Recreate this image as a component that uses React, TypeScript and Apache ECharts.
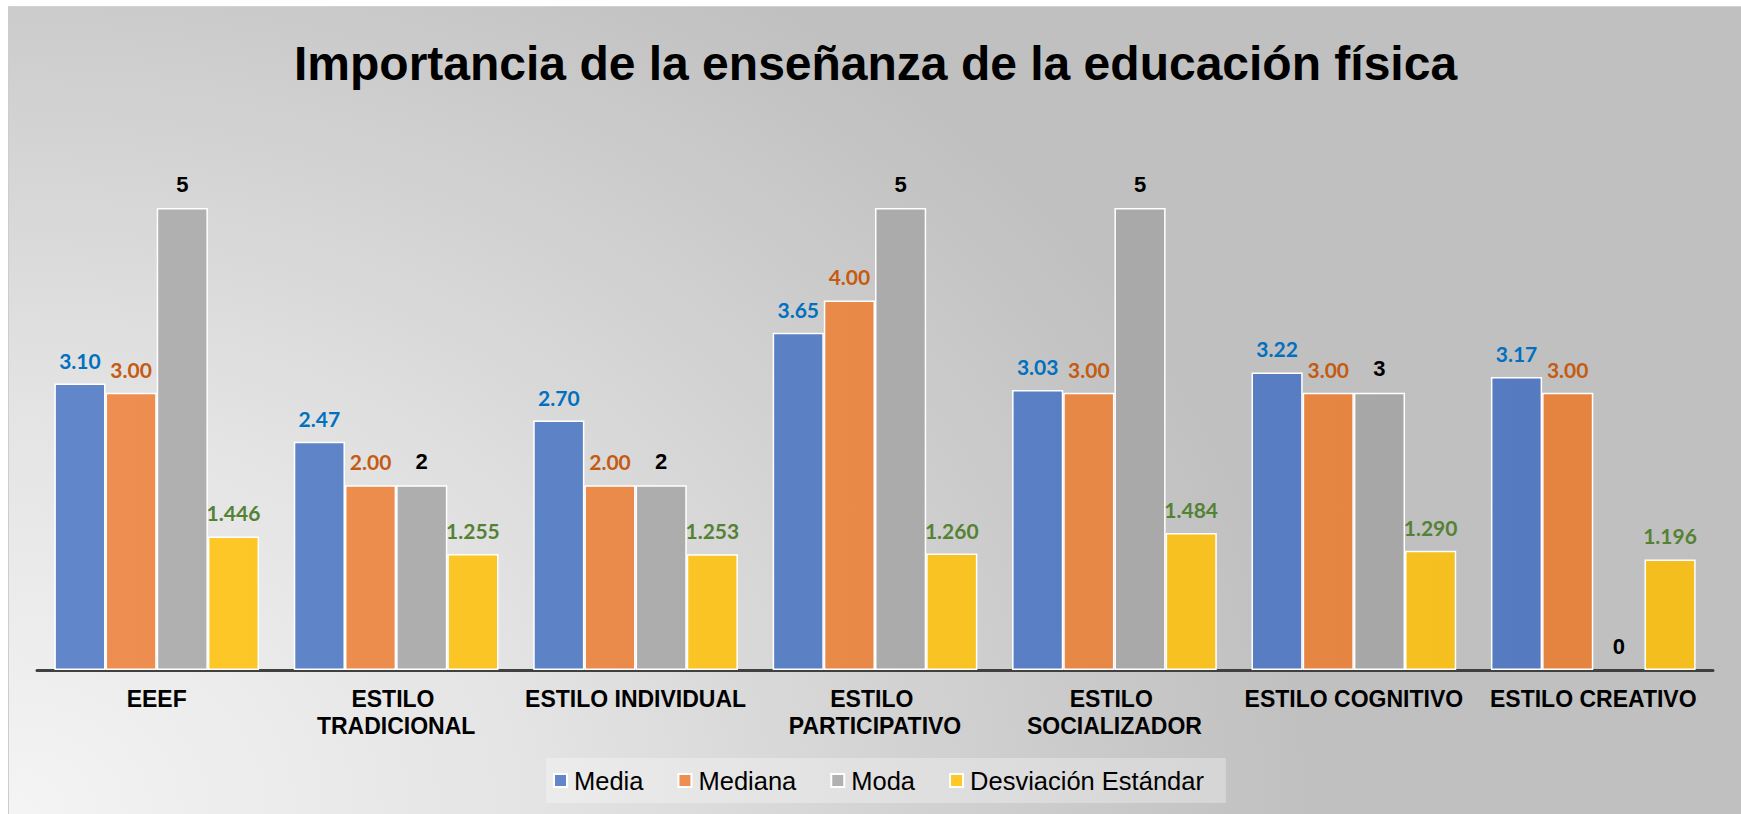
import React, { useEffect, useRef } from "react";
import * as echarts from "echarts";

const titleText = "Importancia de la enseñanza de la educación física";
const categories = [
  "EEEF",
  "ESTILO TRADICIONAL",
  "ESTILO INDIVIDUAL",
  "ESTILO PARTICIPATIVO",
  "ESTILO SOCIALIZADOR",
  "ESTILO COGNITIVO",
  "ESTILO CREATIVO",
];
const seriesNames = ["Media", "Mediana", "Moda", "Desviación Estándar"];
const media = [3.1, 2.47, 2.7, 3.65, 3.03, 3.22, 3.17];
const mediana = [3, 2, 2, 4, 3, 3, 3];
const moda = [5, 2, 2, 5, 5, 3, 0];
const desviacion = [1.446, 1.255, 1.253, 1.26, 1.484, 1.29, 1.196];

const grad = (a: string, b: string) => ({
  type: "linear",
  x: 37,
  y: 0,
  x2: 1713,
  y2: 0,
  global: true,
  colorStops: [
    { offset: 0, color: a },
    { offset: 1, color: b },
  ],
});

export default function App() {
  const ref = useRef<HTMLDivElement>(null);
  useEffect(() => {
    const chart = echarts.init(ref.current!, null, { renderer: "svg" });
    const labelBase = {
      show: true,
      position: "top",
      distance: 13,
      fontSize: 21,
      fontWeight: "bold",
      fontFamily: "Lato, 'Noto Sans', sans-serif",
    };
    const mk = (name: string, data: number[], color: any, label: any) => ({
      name,
      type: "bar",
      data: data.map((v) =>
        v === 0 ? { value: v, itemStyle: { borderWidth: 0 } } : v
      ),
      barGap: "0%",
      barCategoryGap: "14.5%",
      itemStyle: { color, borderColor: "#ffffff", borderWidth: 1.5 },
      label: { ...labelBase, ...label },
    });
    chart.setOption({
      animation: false,
      title: {
        text: titleText,
        left: 294,
        top: 39,
        padding: 0,
        textStyle: {
          fontFamily: "'Liberation Sans', Arial, sans-serif",
          fontWeight: "bold",
          fontSize: 48,
          color: "#000000",
        },
      },
      legend: {
        left: 546,
        top: 758,
        orient: "horizontal",
        icon: "rect",
        itemWidth: 13,
        itemHeight: 13,
        itemGap: 34,
        padding: [9.5, 22, 9.5, 7],
        backgroundColor: "rgba(255,255,255,0.3)",
        textStyle: {
          fontFamily: "'Liberation Sans', Arial, sans-serif",
          fontSize: 25.5,
          color: "#000000",
          padding: [0, 0, 0, 2],
        },
        data: seriesNames,
      },
      grid: { left: 37, right: 28, top: 208, bottom: 144, containLabel: false },
      xAxis: {
        type: "category",
        data: categories,
        axisLine: { show: true, lineStyle: { color: "#404040", width: 3 } },
        axisTick: { show: false },
        axisLabel: {
          interval: 0,
          margin: 15,
          fontFamily: "'Liberation Sans', Arial, sans-serif",
          fontWeight: "bold",
          fontSize: 23,
          lineHeight: 27,
          color: "#000000",
          width: 236,
          overflow: "break",
        },
      },
      yAxis: { type: "value", min: 0, max: 5, show: false },
      series: [
        mk(seriesNames[0], media, grad("#6187ca", "#5479bf"), {
          color: "#0070C0",
          formatter: (p: any) => p.value.toFixed(2),
        }),
        mk(seriesNames[1], mediana, grad("#ee8f51", "#e4833f"), {
          color: "#C55A11",
          formatter: (p: any) => p.value.toFixed(2),
        }),
        mk(seriesNames[2], moda, grad("#b1b1b1", "#a5a5a5"), {
          color: "#000000",
          fontSize: 22,
          fontFamily: "'Liberation Sans', Arial, sans-serif",
          formatter: (p: any) => String(p.value),
        }),
        mk(seriesNames[3], desviacion, grad("#fec829", "#f3be1e"), {
          color: "#548235",
          formatter: (p: any) => p.value.toFixed(3),
        }),
      ],
    });
    return () => chart.dispose();
  }, []);
  return (
    <div
      style={{
        position: "fixed",
        left: 0,
        top: 0,
        width: 1741,
        height: 814,
        background: "#ffffff",
        overflow: "hidden",
      }}
    >
      <div
        style={{
          position: "absolute",
          left: 8,
          top: 6,
          width: 1733,
          height: 808,
          boxSizing: "border-box",
          borderLeft: "1px solid #cdcdcd",
          borderTop: "1px solid #d2d2d2",
          background:
            "radial-gradient(ellipse 1300px 1000px at 0% 100%, #f4f4f4 0%, #e4e4e4 40%, #c0c0c0 100%)",
        }}
      />
      <div
        ref={ref}
        style={{ position: "absolute", left: 0, top: 0, width: 1741, height: 814 }}
      />
    </div>
  );
}
